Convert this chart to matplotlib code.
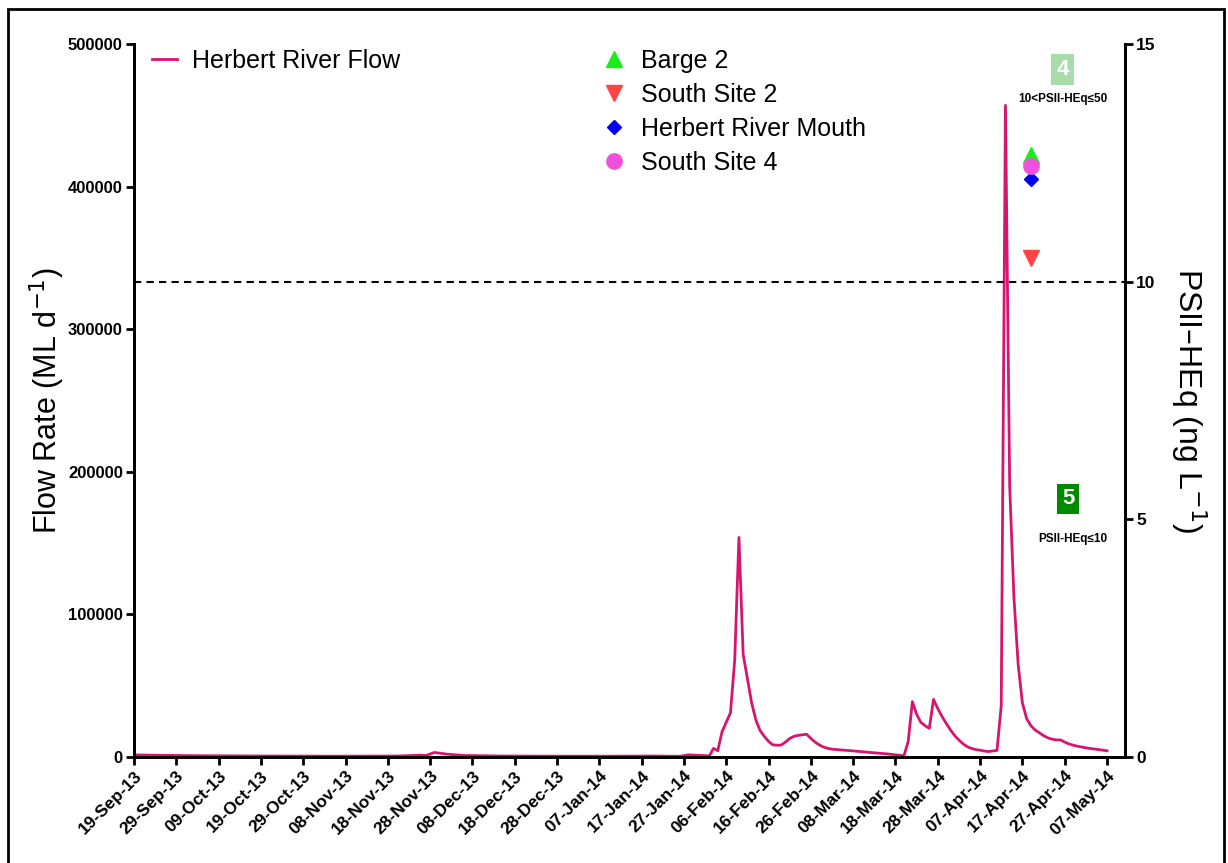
import matplotlib
matplotlib.use("Agg")
import matplotlib.pyplot as plt
import matplotlib.dates as mdates
import pandas as pd
from datetime import datetime

plt.rcParams['font.family'] = ['Liberation Sans', 'DejaVu Sans']

# daily flow, Herbert River (ML/d)
flow_dates = [
    "2013-09-19", "2013-09-25", "2013-10-05", "2013-10-20", "2013-11-05",
    "2013-11-20", "2013-11-26", "2013-11-27", "2013-11-29", "2013-12-02",
    "2013-12-06", "2013-12-15", "2013-12-28", "2014-01-10", "2014-01-20",
    "2014-01-26", "2014-01-28", "2014-02-01", "2014-02-02", "2014-02-03",
    "2014-02-04", "2014-02-05", "2014-02-07", "2014-02-08", "2014-02-09",
    "2014-02-10", "2014-02-11", "2014-02-12", "2014-02-13", "2014-02-14",
    "2014-02-15", "2014-02-16", "2014-02-17", "2014-02-18", "2014-02-19",
    "2014-02-20", "2014-02-21", "2014-02-22", "2014-02-23", "2014-02-24",
    "2014-02-25", "2014-02-26", "2014-02-27", "2014-02-28", "2014-03-01",
    "2014-03-02", "2014-03-03", "2014-03-05", "2014-03-08", "2014-03-12",
    "2014-03-16", "2014-03-19", "2014-03-20", "2014-03-21", "2014-03-22",
    "2014-03-23", "2014-03-24", "2014-03-25", "2014-03-26", "2014-03-27",
    "2014-03-28", "2014-03-29", "2014-03-30", "2014-03-31", "2014-04-01",
    "2014-04-02", "2014-04-03", "2014-04-04", "2014-04-05", "2014-04-06",
    "2014-04-07", "2014-04-08", "2014-04-09", "2014-04-10", "2014-04-11",
    "2014-04-12", "2014-04-13", "2014-04-14", "2014-04-15", "2014-04-16",
    "2014-04-17", "2014-04-18", "2014-04-19", "2014-04-20", "2014-04-21",
    "2014-04-22", "2014-04-23", "2014-04-24", "2014-04-25", "2014-04-26",
    "2014-04-27", "2014-04-28", "2014-04-29", "2014-04-30", "2014-05-01",
    "2014-05-02", "2014-05-03", "2014-05-04", "2014-05-05", "2014-05-06",
    "2014-05-07",
]
flow_values = [
    1500, 1200, 900, 700, 600,
    700, 1300, 1000, 3200, 2000,
    1100, 700, 600, 600, 700,
    500, 1500, 1000, 700, 6100,
    4400, 17700, 31000, 68000, 154000,
    72000, 55000, 38000, 26000, 18500,
    14500, 11000, 8500, 8300, 8400,
    10500, 13000, 14500, 15200, 15600,
    16000, 13000, 10500, 8500, 7000,
    6100, 5500, 5000, 4300, 3200,
    2200, 1200, 900, 10700, 38800,
    30000, 24300, 22000, 20100, 40400,
    34000, 28500, 23600, 19000, 15000,
    11900, 9200, 7200, 6000, 5200,
    4800, 4200, 3800, 4300, 4600,
    36000, 457000, 190000, 112000, 65000,
    38000, 27000, 22000, 19000, 17000,
    15000, 13500, 12500, 12000, 12000,
    10500, 9200, 8300, 7600, 7000,
    6500, 6000, 5600, 5200, 4800,
    4400,
]

# PSII-HEq at the sampling sites (ng/L)
site_names = ["Barge 2", "South Site 2", "Herbert River Mouth", "South Site 4"]
site_values = [12.66, 10.5, 12.16, 12.43]
site_date = "2014-04-19"
site_markers = ["^", "v", "D", "o"]
site_colors = ["#1aee1a", "#ff4444", "#0000ee", "#f050dc"]
site_sizes = [11, 11, 7, 11]

guideline = 10

flow_dates = pd.to_datetime(flow_dates)
site_date = pd.to_datetime(site_date)

fig = plt.figure(figsize=(12.28, 8.63), dpi=100)
ax = fig.add_axes([0.1091, 0.1228, 0.807, 0.8262])
ax2 = ax.twinx()

ax.plot(flow_dates, flow_values, color="#d5156f", lw=2, label="Herbert River Flow")

for name, val, m, c, s in zip(site_names, site_values, site_markers, site_colors, site_sizes):
    ax2.plot([site_date], [val], linestyle="none", marker=m, color=c, markersize=s, label=name)

ax2.axhline(guideline, color="black", lw=1.5, ls=(0, (3.5, 2.5)))

ax.set_xlim(datetime(2013, 9, 19), datetime(2014, 5, 11, 6))
ax.set_ylim(0, 500000)
ax2.set_ylim(0, 15)

xt = pd.date_range("2013-09-19", "2014-05-07", freq="10D")
ax.set_xticks(xt)
ax.xaxis.set_major_formatter(mdates.DateFormatter("%d-%b-%y"))
plt.setp(ax.get_xticklabels(), rotation=45, ha="right", rotation_mode="anchor",
         fontsize=12.5, fontweight="bold")

ax.set_yticks([0, 100000, 200000, 300000, 400000, 500000])
ax.set_yticklabels(["0", "100000", "200000", "300000", "400000", "500000"],
                   fontsize=12, fontweight="bold")
ax2.set_yticks([0, 5, 10, 15])
ax2.set_yticklabels(["0", "5", "10", "15"], fontsize=12.5, fontweight="bold")

for a in (ax, ax2):
    a.spines["top"].set_visible(False)
    for sp in ("left", "right", "bottom"):
        a.spines[sp].set_linewidth(2)
    a.tick_params(width=2, length=6, direction="out", pad=2)

ax.set_ylabel("Flow Rate (ML d$^{-1}$)", fontsize=22, labelpad=1)
ax2.set_ylabel("PSII–HEq (ng L$^{-1}$)", fontsize=23, rotation=-90, labelpad=38)

leg1 = ax.legend(loc="upper left", bbox_to_anchor=(-0.005, 1.025), frameon=False,
                 fontsize=18, handlelength=1.0, handletextpad=0.6)
leg2 = ax2.legend(loc="upper left", bbox_to_anchor=(0.449, 1.025), frameon=False,
                  fontsize=18, handlelength=1.0, handletextpad=0.6, labelspacing=0.40)

# category boxes
ax2.text(datetime(2014, 4, 26, 12), 14.46, "4", color="white", fontsize=16, fontweight="bold",
         ha="center", va="center",
         bbox=dict(boxstyle="square,pad=0.22", fc="#a8dca8", ec="none"))
ax2.text(datetime(2014, 4, 26, 14), 13.84, "10<PSII-HEq≤50", fontsize=8.5, fontweight="bold",
         ha="center", va="center")
ax2.text(datetime(2014, 4, 27, 19), 5.43, "5", color="white", fontsize=16, fontweight="bold",
         ha="center", va="center",
         bbox=dict(boxstyle="square,pad=0.22", fc="#008a00", ec="none"))
ax2.text(datetime(2014, 4, 29), 4.59, "PSII-HEq≤10", fontsize=8.5, fontweight="bold",
         ha="center", va="center")

# outer border of the figure
fig.patches.append(plt.Rectangle((8 / 1228, -0.01), 1216 / 1228, 1 - 9 / 863 + 0.01,
                                 transform=fig.transFigure, fill=False, lw=2, ec="black"))

fig.savefig("out.png", dpi=100)
